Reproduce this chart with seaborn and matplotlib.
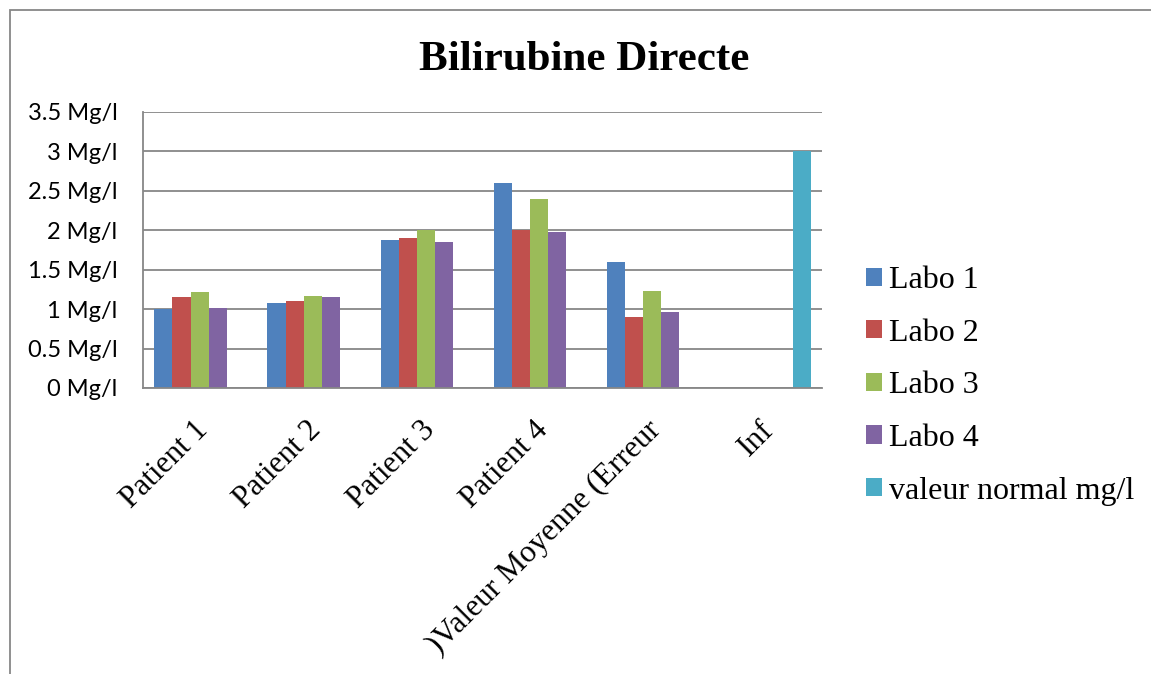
import numpy as np
import pandas as pd
import matplotlib
matplotlib.use("Agg")
import matplotlib.pyplot as plt
import matplotlib.transforms as mtransforms
from matplotlib.patches import Patch, Rectangle
import seaborn as sns

# ---- data -------------------------------------------------------------
categories = ["Patient 1", "Patient 2", "Patient 3", "Patient 4",
              ")Valeur Moyenne (Erreur", "Inf"]
series = ["Labo 1", "Labo 2", "Labo 3", "Labo 4", "valeur normal mg/l"]

labo1 = [1.00, 1.08, 1.88, 2.60, 1.60, np.nan]
labo2 = [1.16, 1.10, 1.90, 2.00, 0.90, np.nan]
labo3 = [1.22, 1.17, 2.00, 2.40, 1.23, np.nan]
labo4 = [1.02, 1.15, 1.85, 1.98, 0.96, np.nan]
valeur_normale = [np.nan, np.nan, np.nan, np.nan, np.nan, 3.0]

y_ticks = [0, 0.5, 1, 1.5, 2, 2.5, 3, 3.5]
colors = ["#4F81BD", "#C0504D", "#9BBB59", "#8064A2", "#4BACC6"]

# long-form table for seaborn
values = [labo1, labo2, labo3, labo4, valeur_normale]
df = pd.DataFrame(
    [(c, s, v) for s, vals in zip(series, values) for c, v in zip(categories, vals)],
    columns=["categorie", "serie", "valeur"],
).dropna()

# ---- figure -----------------------------------------------------------
sns.set_style("white")
plt.rcParams["text.color"] = "black"
W, H = 1151, 674
fig = plt.figure(figsize=(W / 100, H / 100), dpi=100)
ax = fig.add_axes([143 / W, 1 - 388 / H, (822 - 143) / W, (388 - 112) / H])

sns.barplot(data=df, x="categorie", y="valeur", hue="serie",
            order=categories, hue_order=series, palette=colors,
            saturation=1, width=0.8, errorbar=None, legend=False,
            linewidth=0, ax=ax)

grey = "#878787"
ax.set_xlim(-0.5, len(categories) - 0.5)
ax.set_ylim(0, 3.5)
ax.set_yticks(y_ticks)
ax.set_yticklabels([f"{v:g} Mg/l" for v in y_ticks],
                   fontfamily="Lato", fontsize=17, color="black")
ax.set_xlabel("")
ax.set_ylabel("")

ax.yaxis.grid(True, color=grey, linewidth=1.3)
ax.set_axisbelow(True)
for side in ("top", "right"):
    ax.spines[side].set_visible(False)
for side in ("left", "bottom"):
    ax.spines[side].set_color(grey)
    ax.spines[side].set_linewidth(1.3)

ax.tick_params(axis="y", length=6, width=1.3, color=grey, pad=12.5)
# category boundaries carry the tick marks; labels sit at the centres
ax.set_xticks(np.arange(-0.5, len(categories), 1.0), minor=True)
ax.tick_params(axis="x", which="minor", length=7, width=1.3, color=grey)
ax.tick_params(axis="x", which="major", length=0, pad=20)
ax.set_xticks(range(len(categories)))
ax.set_xticklabels(categories, rotation=45, ha="right", va="top",
                   rotation_mode="anchor", fontfamily="Liberation Serif",
                   fontsize=22.5, color="black")
shift = mtransforms.ScaledTranslation(-6 / 100, 0, fig.dpi_scale_trans)
for lbl in ax.get_xticklabels():
    lbl.set_transform(lbl.get_transform() + shift)

# title
fig.text(584 / W, 1 - 60 / H, "Bilirubine Directe", ha="center", va="center",
         fontfamily="Liberation Serif", fontweight="bold", fontsize=31,
         color="black")

# legend
handles = [Patch(facecolor=c, edgecolor="none", label=s)
           for c, s in zip(colors, series)]
fig.legend(handles=handles, loc="upper left",
           bbox_to_anchor=(866 / W, 1 - 266 / H), frameon=False,
           prop={"family": "Liberation Serif", "size": 23},
           handlelength=0.5, handleheight=0.5, handletextpad=0.22,
           labelspacing=0.74, borderpad=0, borderaxespad=0)

# chart frame
fig.patches.append(Rectangle((10 / W, -0.1), 1.2, 1.1 - 10 / H,
                             transform=fig.transFigure, fill=False,
                             edgecolor=grey, linewidth=1.3))

fig.savefig("out.png", dpi=100)
